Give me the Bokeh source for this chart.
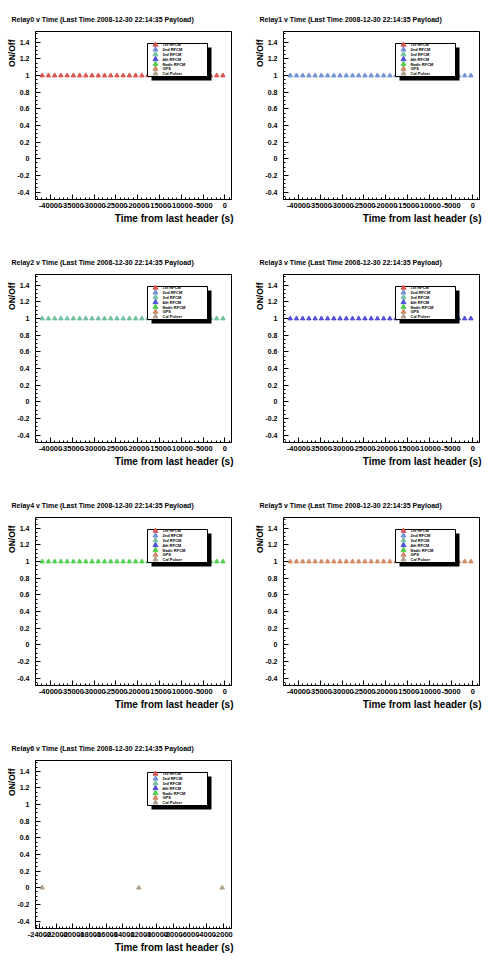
from bokeh.plotting import figure
from bokeh.layouts import gridplot
from bokeh.models import (Range1d, SingleIntervalTicker, CustomJSTickFormatter, Title,
                          LabelSet, BoxAnnotation, ColumnDataSource)
from bokeh.core.properties import value
from bokeh.embed import file_html
from bokeh.resources import INLINE

# ---------------- data ----------------
relay_names = ["Relay0", "Relay1", "Relay2", "Relay3", "Relay4", "Relay5", "Relay6"]
title_suffix = " v Time (Last Time 2008-12-30 22:14:35 Payload)"

times_main = [-41900, -40470, -39040, -37610, -36180, -34750, -33320, -31890, -30460, -29040,
              -27600, -26180, -24750, -23320, -21890, -20460, -19030, -17600, -16170, -14740,
              -13310, -11880, -10450, -9020, -7590, -6160, -4730, -3300, -1870, -440]
onoff_main = [1, 1, 1, 1, 1, 1, 1, 1, 1, 1,
              1, 1, 1, 1, 1, 1, 1, 1, 1, 1,
              1, 1, 1, 1, 1, 1, 1, 1, 1, 1]

times_relay6 = [-23670, -12100, -2120]
onoff_relay6 = [0, 0, 0]

legend_labels = ["1st RFCM", "2nd RFCM", "3rd RFCM", "4th RFCM", "Nadir RFCM", "GPS", "Cal Pulser"]
series_colors = ["#d95550", "#7393d6", "#72c09e", "#5050d8", "#52d052", "#d08a64", "#b0a08e"]

x_range_main = (-43440, 1540)
x_range_relay6 = (-24470, -1000)
x_tick_main = 5000
x_tick_relay6 = 2000
y_range_all = (-0.49, 1.53)
y_tick = 0.2

x_title = "Time from last header (s)"
y_title = "ON/Off"

# ---------------- layout constants ----------------
FRAME_W = 196
FRAME_H = 168
FONT = "Liberation Sans"
legend_rows_y = [154.7, 149.9, 145.1, 140.3, 135.5, 130.7, 126.0]


def screen_box(l, r, b, t, **kw):
    return BoxAnnotation(left=l, right=r, bottom=b, top=t,
                         left_units="screen", right_units="screen",
                         bottom_units="screen", top_units="screen", **kw)


def make_panel(idx):
    if idx == 6:
        times, vals, xr, xtick = times_relay6, onoff_relay6, x_range_relay6, x_tick_relay6
    else:
        times, vals, xr, xtick = times_main, onoff_main, x_range_main, x_tick_main

    p = figure(width=248, height=243, output_backend="svg", toolbar_location=None,
               x_range=Range1d(*xr), y_range=Range1d(*y_range_all),
               min_border_left=35, min_border_right=248 - 35 - FRAME_W,
               min_border_top=31, min_border_bottom=243 - 31 - FRAME_H)
    p.xgrid.visible = False
    p.ygrid.visible = False
    p.background_fill_color = "white"
    p.border_fill_color = "white"
    p.outline_line_color = "black"
    p.outline_line_width = 1

    # panel title
    p.title.text = relay_names[idx] + title_suffix
    p.title.align = "left"
    p.title.offset = -24
    p.title.standoff = 18
    p.title.text_font = FONT
    p.title.text_font_style = "bold"
    p.title.text_font_size = "7px"
    p.title.text_color = "black"

    p.xaxis.ticker = SingleIntervalTicker(interval=xtick, num_minor_ticks=5)
    p.yaxis.ticker = SingleIntervalTicker(interval=y_tick, num_minor_ticks=4)
    p.xaxis.formatter = CustomJSTickFormatter(code="return Math.round(tick).toString();")
    p.yaxis.formatter = CustomJSTickFormatter(
        code="const v = Math.round(tick*100)/100; return (v === 0 ? 0 : v).toString();")
    for ax in (p.xaxis[0], p.yaxis[0]):
        ax.major_tick_in = 5
        ax.major_tick_out = 0
        ax.minor_tick_in = 2
        ax.minor_tick_out = 0
        ax.axis_line_color = "black"
        ax.major_tick_line_color = "black"
        ax.minor_tick_line_color = "black"
        ax.major_label_text_font = FONT
        ax.major_label_text_font_style = "bold"
        ax.major_label_text_color = "black"
    p.xaxis.major_label_text_font_size = "7.5px"
    p.yaxis.major_label_text_font_size = "7px"
    p.xaxis.major_label_standoff = 3
    p.yaxis.major_label_standoff = 6

    # axis titles
    p.add_layout(Title(text=x_title, align="right", offset=-2, standoff=0,
                       text_font=FONT, text_font_style="bold", text_font_size="10px",
                       text_color="black"), "below")
    p.add_layout(Title(text=y_title, align="right", offset=8, standoff=-5,
                       text_font=FONT, text_font_style="bold", text_font_size="8.5px",
                       text_color="black"), "left")

    # data
    p.scatter(times, vals, marker="triangle", size=4.5,
              fill_color=series_colors[idx], line_color=series_colors[idx])

    # heavier top / right frame edge (ROOT frame look)
    p.add_layout(screen_box(0, FRAME_W + 1.5, FRAME_H, FRAME_H + 1,
                            fill_color="black", fill_alpha=1, line_alpha=0))
    p.add_layout(screen_box(FRAME_W, FRAME_W + 1.5, 0, FRAME_H + 1,
                            fill_color="black", fill_alpha=1, line_alpha=0))

    # legend: shadow, box, entries
    p.add_layout(screen_box(116, 176, 119, 152, fill_color="black", fill_alpha=1, line_alpha=0))
    p.add_layout(screen_box(112, 172, 123, 156, fill_color="white", fill_alpha=1,
                            line_color="black", line_width=1, line_alpha=1))
    src = ColumnDataSource(dict(lx=[127] * 7, ly=legend_rows_y, name=legend_labels))
    p.add_layout(LabelSet(x="lx", y="ly", text="name", source=src,
                          x_units="screen", y_units="screen",
                          text_font=value(FONT), text_font_style="bold",
                          text_font_size="4px", text_baseline="middle", text_color="black"))
    p.extra_x_ranges = {"lg": Range1d(0, FRAME_W)}
    p.extra_y_ranges = {"lg": Range1d(0, FRAME_H)}
    p.scatter(x=[120] * 7, y=legend_rows_y, marker="triangle", size=5,
              fill_color=series_colors, line_color=series_colors,
              x_range_name="lg", y_range_name="lg", level="overlay")
    return p


panels = [make_panel(i) for i in range(7)]

grid = gridplot([[panels[0], panels[1]], [panels[2], panels[3]],
                 [panels[4], panels[5]], [panels[6], None]], toolbar_location=None)

open("out.html", "w").write(file_html(grid, INLINE))
